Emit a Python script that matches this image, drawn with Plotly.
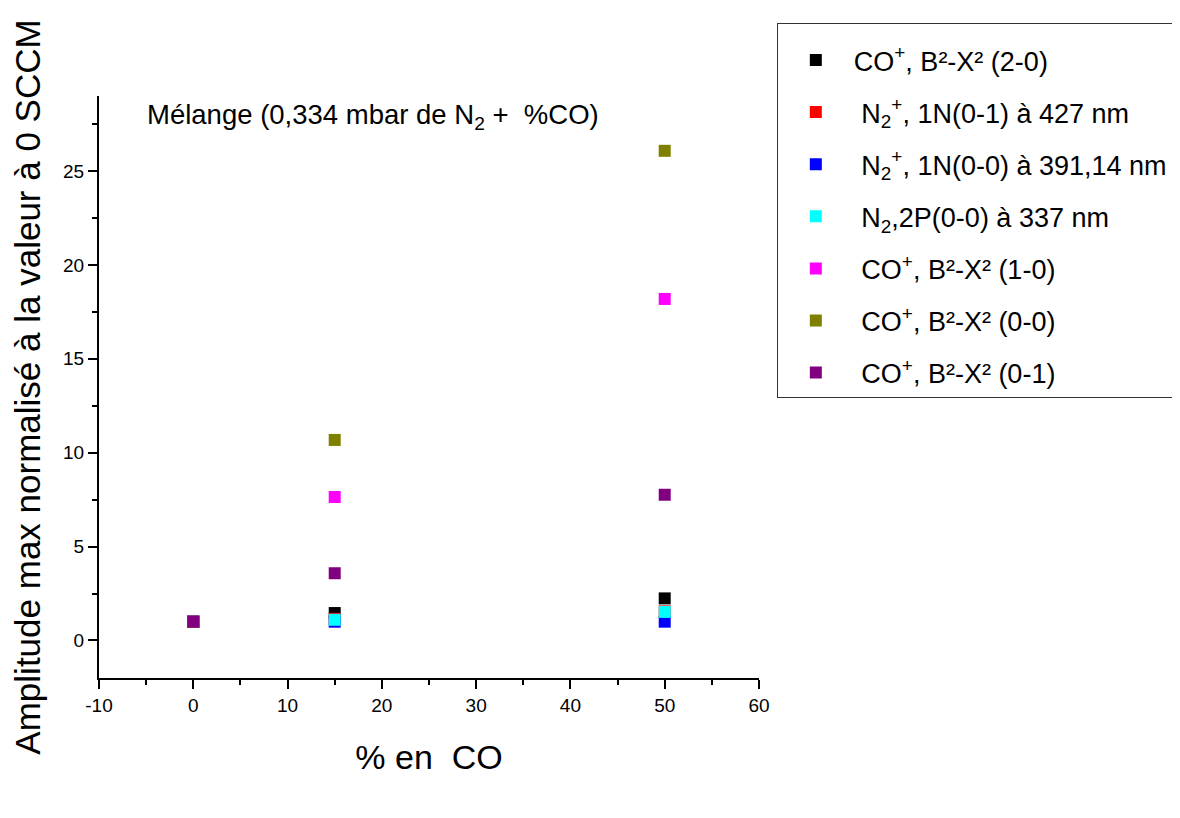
import plotly.graph_objects as go

pct_co = [0, 15, 50]

series_names = [
    "CO<sup>+</sup>, B²-X² (2-0)",
    " N<sub>2</sub><sup>+</sup>, 1N(0-1) à 427 nm",
    " N<sub>2</sub><sup>+</sup>, 1N(0-0) à 391,14 nm",
    " N<sub>2</sub>,2P(0-0) à 337 nm",
    " CO<sup>+</sup>, B²-X² (1-0)",
    " CO<sup>+</sup>, B²-X² (0-0)",
    " CO<sup>+</sup>, B²-X² (0-1)",
]
co_20 = [1.0, 1.46, 2.24]
n2p_427 = [1.0, 1.15, 1.55]
n2p_391 = [1.0, 1.0, 1.0]
n2_337 = [1.0, 1.1, 1.52]
co_10 = [1.0, 7.64, 18.19]
co_00 = [1.0, 10.68, 26.08]
co_01 = [1.0, 3.58, 7.76]
series_values = [co_20, n2p_427, n2p_391, n2_337, co_10, co_00, co_01]
series_colors = ["#000000", "#FF0000", "#0000FF", "#00FFFF", "#FF00FF", "#808000", "#800080"]

x_tick_vals = [-10, 0, 10, 20, 30, 40, 50, 60]
x_tick_text = ["-10", "0", "10", "20", "30", "40", "50", "60"]
y_tick_vals = [0, 5, 10, 15, 20, 25]
y_tick_text = ["0", "5", "10", "15", "20", "25"]

FONT = "Liberation Sans, Arial, sans-serif"

fig = go.Figure()
for i, (name, vals, col) in enumerate(zip(series_names, series_values, series_colors)):
    fig.add_trace(go.Scatter(
        x=pct_co, y=vals, mode="markers", name=name, legendgroup=f"g{i}",
        marker=dict(symbol="square", size=12, color=col, line=dict(width=0)),
    ))

fig.update_layout(
    width=1180, height=818,
    margin=dict(l=91, r=429, t=88, b=148),
    paper_bgcolor="white", plot_bgcolor="white",
    font=dict(family=FONT, color="black", size=18),
    showlegend=True,
    legend=dict(
        x=1.027, y=1.125, xanchor="left", yanchor="top",
        bordercolor="#333333", borderwidth=1, bgcolor="white",
        font=dict(size=27, family=FONT), tracegroupgap=14,
        itemwidth=66,
        title=dict(text=" ", font=dict(size=9)),
    ),
    xaxis=dict(
        range=[-10, 60], tickvals=x_tick_vals, ticktext=x_tick_text,
        showgrid=False, zeroline=False, automargin=False,
        showline=True, linecolor="black", linewidth=2,
        ticks="outside", ticklen=9, tickwidth=2, tickcolor="black",
        tickfont=dict(size=19),
        minor=dict(dtick=5, tick0=-5, ticks="outside", ticklen=5, tickwidth=2, tickcolor="black"),
        title=dict(text="% en  CO", font=dict(size=34, family=FONT), standoff=30),
    ),
    yaxis=dict(
        range=[-2, 29], tickvals=y_tick_vals, ticktext=y_tick_text,
        showgrid=False, zeroline=False, automargin=False,
        showline=True, linecolor="black", linewidth=2,
        ticks="outside", ticklen=9, tickwidth=2, tickcolor="black",
        tickfont=dict(size=19),
        minor=dict(dtick=2.5, tick0=0, ticks="outside", ticklen=5, tickwidth=2, tickcolor="black"),
        title=dict(text="Amplitude max normalisé à la valeur à 0 SCCM",
                   font=dict(size=35, family=FONT), standoff=28),
    ),
    annotations=[
        dict(text="Mélange (0,334 mbar de N<sub>2</sub> +  %CO)", x=0.07, y=0.965,
             xref="paper", yref="paper", xanchor="left", yanchor="middle",
             showarrow=False, font=dict(size=27.5, family=FONT)),
    ],
)

fig.write_html("out.html")
